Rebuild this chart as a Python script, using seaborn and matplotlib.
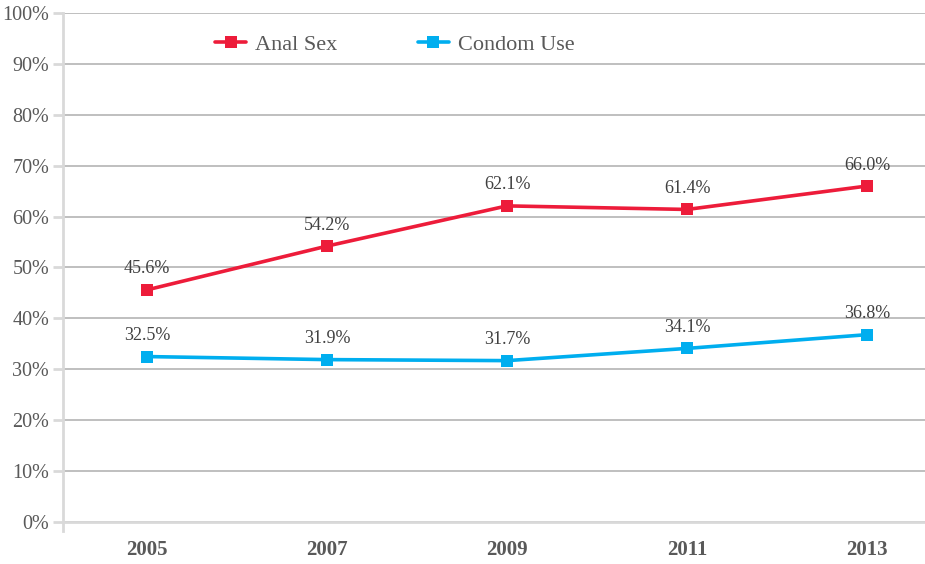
import pandas as pd
import numpy as np
import seaborn as sns
import matplotlib.pyplot as plt
from matplotlib.ticker import FuncFormatter

years = ['2005', '2007', '2009', '2011', '2013']
anal_sex = [45.6, 54.2, 62.1, 61.4, 66.0]
condom_use = [32.5, 31.9, 31.7, 34.1, 36.8]
series_names = ['Anal Sex', 'Condom Use']
series_colors = ['#ED1C3A', '#00AEEF']

df = pd.DataFrame({
    'pos': list(range(len(years))) * 2,
    'value': anal_sex + condom_use,
    'series': [series_names[0]] * len(years) + [series_names[1]] * len(years),
})

sns.set_style('white')
plt.rcParams['font.family'] = ['Liberation Serif', 'DejaVu Serif']
text_color = '#595959'

fig = plt.figure(figsize=(9.25, 5.64), dpi=100)
ax = fig.add_axes([0.068, 0.0745, 0.932, 0.9025])

sns.lineplot(data=df, x='pos', y='value', hue='series',
             palette=series_colors, hue_order=series_names,
             marker='s', markersize=8, markeredgewidth=0,
             linewidth=2.6, ax=ax)

for vals in [anal_sex, condom_use]:
    for i, v in enumerate(vals):
        ax.annotate(f'{v:.1f}%', (i, v), xytext=(0, 9), textcoords='offset points',
                    ha='center', va='bottom', fontsize=13, color='#404040')

ax.set_xlim(-0.467, 4.322)
ax.set_ylim(0, 100)
ax.set_xticks(range(len(years)))
ax.set_xticklabels(years, fontsize=15, fontweight='bold', color=text_color)
ax.set_yticks(np.arange(0, 101, 10))
ax.yaxis.set_major_formatter(FuncFormatter(lambda v, p: f'{v:.0f}%'))
ax.tick_params(axis='y', labelsize=14.5, labelcolor=text_color, length=7,
               width=2, color='#d9d9d9', direction='out', pad=3, left=True)
ax.tick_params(axis='x', length=0, pad=13)
ax.set_xlabel('')
ax.set_ylabel('')

ax.yaxis.grid(True, color='#bfbfbf', linewidth=1.4)
ax.set_axisbelow(True)
for s in ['top', 'right']:
    ax.spines[s].set_visible(False)
ax.spines['left'].set_color('#d9d9d9')
ax.spines['left'].set_linewidth(2)
ax.spines['left'].set_bounds(-1.8, 100)
ax.spines['bottom'].set_color('#d9d9d9')
ax.spines['bottom'].set_linewidth(2)

leg = ax.legend(loc='center', bbox_to_anchor=(0.385, 0.938), ncol=2,
                frameon=False, fontsize=16, handlelength=1.4,
                columnspacing=3.6, handletextpad=0.4)
for t in leg.get_texts():
    t.set_color(text_color)

fig.savefig('out.png', dpi=100)
